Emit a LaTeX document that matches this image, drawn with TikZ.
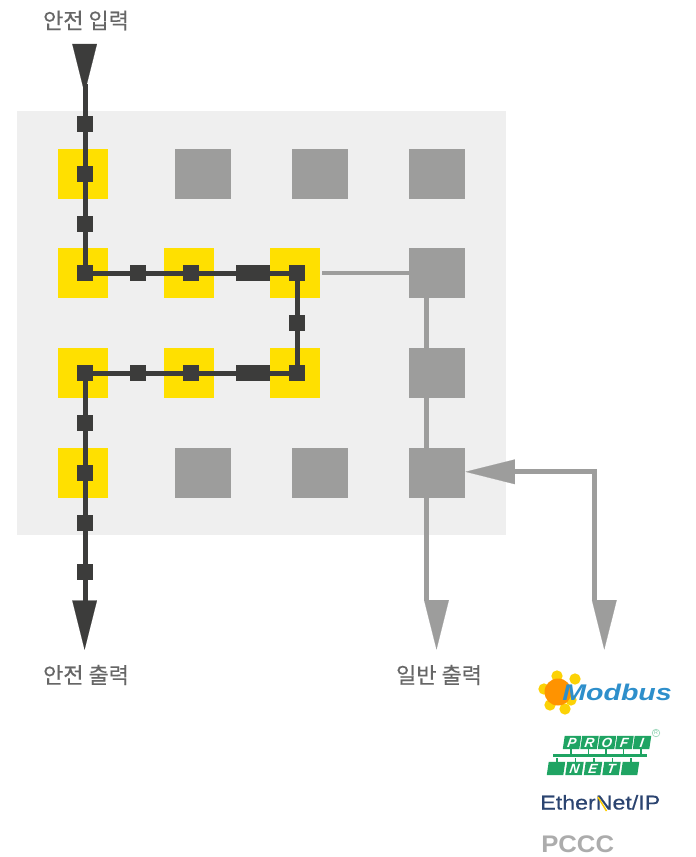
\documentclass[tikz,border=0pt]{standalone}
\usepackage{fontspec}
\setmainfont{Liberation Sans}
\newfontfamily\krfont[FakeBold=0.35]{Noto Sans CJK KR}
\newfontfamily\ethfont[FakeBold=0.4]{Liberation Sans}
\usetikzlibrary{arrows.meta}
\definecolor{dk}{HTML}{3C3C3B}
\definecolor{gr}{HTML}{9D9D9C}
\definecolor{yl}{HTML}{FFE000}
\definecolor{bgc}{HTML}{EFEFEF}
\definecolor{lab}{HTML}{666666}
\definecolor{pgreen}{HTML}{1FA463}
\definecolor{mblue}{HTML}{2E8FCB}
\definecolor{enavy}{HTML}{2B4470}
\tikzset{
 x=0.75pt,y=-0.75pt,
 yellowbox/.style={fill=yl,draw=none,minimum width=37.5pt,minimum height=37.5pt,inner sep=0pt},
 graybox/.style={fill=gr,draw=none,minimum width=42pt,minimum height=37.5pt,inner sep=0pt},
 dot/.style={fill=dk,draw=none,minimum width=12pt,minimum height=12pt,inner sep=0pt},
 wdot/.style={dot,minimum width=25.5pt},
 darkline/.style={draw=dk,line width=3.75pt},
 grayline/.style={draw=gr,line width=3.75pt},
 darkarrow/.style={draw=dk,line width=0.1pt,-{Triangle[length=37pt,width=18.5pt,fill=dk]}},
 grayarrow/.style={draw=gr,line width=0.1pt,-{Triangle[length=37pt,width=18.5pt,fill=gr]}},
 lbl/.style={font=\krfont\fontsize{16.5pt}{18pt}\selectfont,text=lab,inner sep=0pt},
 pcell/.style={fill=pgreen,draw=none,xslant=0.15,transform shape,minimum width=12.4pt,minimum height=9.8pt,inner sep=0pt,
   font=\bfseries\itshape\fontsize{10pt}{10pt}\selectfont,text=white},
 gearnub/.style={fill=yellow!70!orange,draw=none,circle,minimum size=8.5pt,inner sep=0pt},
}
\begin{document}
\begin{tikzpicture}
\useasboundingbox (0,0) rectangle (696,857);
\fill[bgc] (17,111) rectangle (506,535);
% boxes
\foreach \n/\x/\y in {a/83/174,b/83/273,c/83/373,d/83/473,e/189/273,f/295/273,g/189/373,h/295/373}
  \node[yellowbox] (y\n) at (\x,\y) {};
\foreach \n/\x/\y in {a/203/174,b/320/174,c/437/174,d/437/273,e/437/373,f/437/473,g/203/473,h/320/473}
  \node[graybox] (g\n) at (\x,\y) {};
% free ends
\coordinate (inA) at (84.6,44);
\coordinate (inB) at (84.6,93.3);
\coordinate (outA) at (84.6,600.5);
\coordinate (outB) at (84.6,649.8);
\coordinate (genA) at (436.5,600.3);
\coordinate (genB) at (436.5,649.5);
\coordinate (netA) at (604.3,600.3);
\coordinate (netB) at (604.3,649.5);
\coordinate (busA) at (514.5,471.8);
\coordinate (busB) at (465.5,471.8);
\coordinate (busC) at (594.7,471.8);
\coordinate (busD) at (594.7,601);
\coordinate (stub) at (322,273.3);
\coordinate (grt) at (426.2,273.3);
\coordinate (grb) at (426.2,601);
\coordinate (t0) at (85.8,84);
\coordinate (t1) at (85.8,273.5);
\coordinate (t2) at (297.5,273.5);
\coordinate (t3) at (297.5,373.3);
\coordinate (t4) at (85.8,373.3);
\coordinate (t5) at (85.8,602);
% gray connectors
\draw[grayline,line width=3pt] (stub) -- (stub -| gd.west);
\draw[grayline] (grt) -- (grb);
\draw[grayline] (busA) -- (busC) -- (busD);
\draw[grayarrow] (genA) -- (genB);
\draw[grayarrow] (netA) -- (netB);
\draw[grayarrow] (busA) -- (busB);
% dark connectors
\draw[darkline] (t0) -- (t1) -- (t2) -- (t3) -- (t4) -- (t5);
\draw[darkarrow] (inA) -- (inB);
\draw[darkarrow] (outA) -- (outB);
\foreach \n/\x/\y in {1/85/124,2/85/174,3/85/224,4/85/273,5/138/273,6/191/273,7/297/273,8/297/323,
   9/85/373,10/138/373,11/191/373,12/297/373,13/85/423,14/85/473,15/85/523,16/85/572}
  \node[dot] (s\n) at (\x,\y) {};
\node[wdot] (w1) at (253,273) {};
\node[wdot] (w2) at (253,373) {};
% labels
\node[lbl] (l1) at (86,20.5) {안전 입력};
\node[lbl] (l2) at (86,675) {안전 출력};
\node[lbl] (l3) at (439,675) {일반 출력};
% Modbus logo
\foreach \n/\x/\y in {1/557/676,2/575/679,3/544/689,4/550/705,5/565/709,6/571/700}
  \node[gearnub] (m\n) at (\x,\y) {};
\fill[orange!85!yellow] (558,692) circle (13.5);
\node[inner sep=0pt,anchor=west,text=mblue,xscale=1.26,transform shape,font=\bfseries\itshape\fontsize{17pt}{17pt}\selectfont] (modbus) at (562,692) {Modbus};
% Profinet logo
\foreach \n/\t/\x in {1/P/572,2/R/589.5,3/O/607,4/F/624.5,5/I/642}
  \node[pcell] (pa\n) at (\x,742.5) {\t};
\foreach \n/\t/\x in {1/{}/556,2/N/574.5,3/E/593,4/T/611.5,5/{}/630}
  \node[pcell] (pb\n) at (\x,768.5) {\t};
\node[fill=pgreen,draw=none,inner sep=0pt,minimum width=70.5pt,minimum height=2.6pt] (bus) at (600,755.5) {};
\foreach \n in {1,2,3,4,5} {
  \draw[pgreen,line width=0.8pt] (pa\n.south) -- (pa\n.south |- bus.north);
  \draw[pgreen,line width=0.8pt] (pb\n.north) -- (pb\n.north |- bus.south);
}
\node[circle,draw=pgreen!45,line width=0.5pt,inner sep=0.6pt,text=pgreen!60,font=\fontsize{4pt}{4pt}\selectfont] (reg) at (656,733) {R};
% EtherNet/IP
\node[inner sep=0pt,anchor=base west,text=enavy,xscale=1.16,transform shape,font=\ethfont\fontsize{15pt}{15pt}\selectfont] (enet) at (540,809.5) {EtherNet/IP};
\draw[yl!80!orange,line width=1.1pt] (598,797) -- (606.5,811);
% PCCC
\node[inner sep=0pt,anchor=base west,text=gray!65,xscale=1.07,transform shape,font=\bfseries\fontsize{18pt}{18pt}\selectfont] (pccc) at (541,852) {PCCC};
\end{tikzpicture}
\end{document}
